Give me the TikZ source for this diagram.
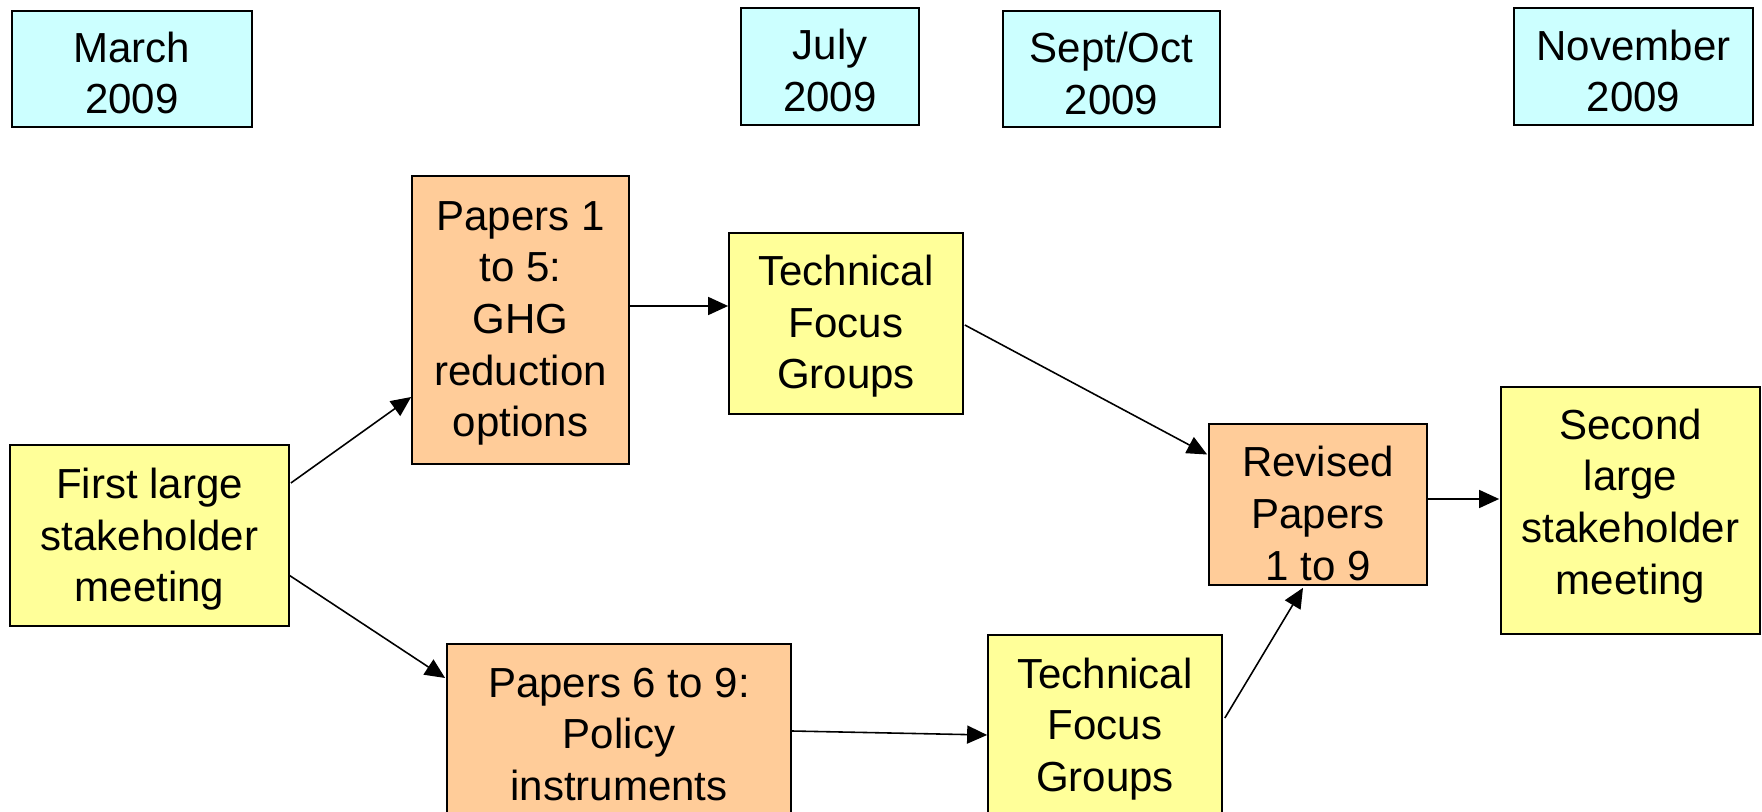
\documentclass[tikz,border=0pt]{standalone}
\usepackage{fontspec}
\setmainfont{Liberation Sans}
\usetikzlibrary{arrows.meta,calc}
\definecolor{datecol}{HTML}{CCFFFF}
\definecolor{yelcol}{HTML}{FFFF99}
\definecolor{orgcol}{HTML}{FFCC99}
\newcommand{\boxtxt}[2][-2.3pt]{\raisebox{#1}[\height][\depth]{\begin{tabular}{@{}c@{}}#2\end{tabular}}}
\tikzset{
  box/.style={draw=black, line width=0.45pt, rectangle, inner sep=0pt, align=center,
    font=\fontsize{11.95}{14.7}\selectfont},
  datebox/.style={box, fill=datecol},
  yelbox/.style={box, fill=yelcol},
  orgbox/.style={box, fill=orgcol},
  conn/.style={draw=black, line width=0.45pt, -{Triangle[length=0.2cm,width=0.18cm]}}
}
\begin{document}
\begin{tikzpicture}[x=0.01cm,y=-0.01cm]
\clip (0,0) rectangle (1762,812);
\fill[white] (0,0) rectangle (1762,812);
% dates
\node[datebox, minimum width=2.40cm, minimum height=1.16cm] (march) at (132,69) {\boxtxt[-2.5pt]{March\\2009}};
\node[datebox, minimum width=1.78cm, minimum height=1.17cm] (july) at (830,66.5) {\boxtxt[-2.4pt]{July\\2009}};
\node[datebox, minimum width=2.17cm, minimum height=1.16cm] (sept) at (1111.5,69) {\boxtxt[-2.7pt]{Sept/Oct\\2009}};
\node[datebox, minimum width=2.39cm, minimum height=1.17cm] (nov) at (1633.5,66.5) {\boxtxt[-2.6pt]{November\\2009}};
% process boxes
\node[yelbox, minimum width=2.79cm, minimum height=1.81cm] (first) at (149.5,535.5) {\boxtxt[-1.2pt]{First large\\stakeholder\\meeting}};
\node[orgbox, minimum width=2.17cm, minimum height=2.88cm] (p15) at (520.5,320) {\boxtxt[-0.9pt]{Papers 1\\to 5:\\GHG\\reduction\\options}};
\node[yelbox, minimum width=2.34cm, minimum height=1.81cm] (tfg1) at (846,323.5) {\boxtxt[-0.9pt]{Technical\\Focus\\Groups}};
\node[orgbox, minimum width=3.44cm, minimum height=1.82cm] (p69) at (619,735) {\boxtxt[-1.0pt]{Papers 6 to 9:\\Policy\\instruments}};
\node[yelbox, minimum width=2.34cm, minimum height=1.80cm] (tfg2) at (1105,725) {\boxtxt[-1.3pt]{Technical\\Focus\\Groups}};
\node[orgbox, minimum width=2.18cm, minimum height=1.61cm] (rev) at (1318,504.5) {\boxtxt[-3.9pt]{Revised\\Papers\\1 to 9}};
\node[yelbox, minimum width=2.59cm, minimum height=2.47cm] (second) at (1630.5,510.5) {\boxtxt[1.2pt]{Second\\large\\stakeholder\\meeting}};
% connectors
\draw[conn] ($(first.east)+(1,-52.5)$) -- ($(p15.west)+(0,77)$);
\draw[conn] ($(first.east)+(-1,39.5)$) -- ($(p69.west)+(-1,-57)$);
\draw[conn] ($(p15.east)+(0,-14)$) -- ($(tfg1.west)+(0,-17.5)$);
\draw[conn] ($(tfg1.east)+(1,1.5)$) -- ($(rev.west)+(-1,-50)$);
\draw[conn] ($(p69.east)+(0,-4)$) -- ($(tfg2.west)+(0,10)$);
\draw[conn] ($(tfg2.east)+(2,-7)$) -- ($(rev.south)+(-15,2)$);
\draw[conn] ($(rev.east)+(0,-5.5)$) -- ($(second.west)+(-1,-11.5)$);
\end{tikzpicture}
\end{document}
